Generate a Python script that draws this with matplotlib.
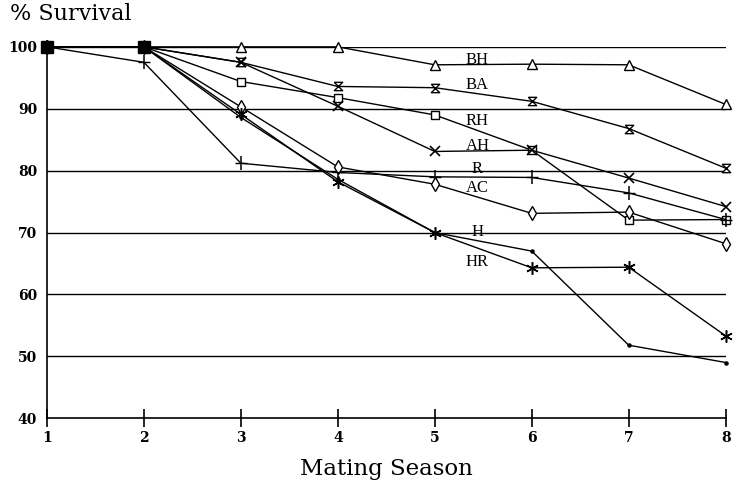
import matplotlib
matplotlib.use("Agg")
import matplotlib.pyplot as plt

# mating seasons and % survival per group
seasons = [1, 2, 3, 4, 5, 6, 7, 8]
bh = [100, 100, 100, 100, 97.1, 97.2, 97.1, 90.7]
ba = [100, 100, 97.5, 93.6, 93.4, 91.2, 86.8, 80.4]
rh = [100, 100, 94.4, 91.8, 89.0, 83.3, 72.0, 72.1]
ah = [100, 100, 97.5, 90.4, 83.1, 83.3, 78.8, 74.2]
r = [100, 97.5, 81.2, 79.7, 79.0, 78.9, 76.4, 72.1]
ac = [100, 100, 90.3, 80.6, 77.8, 73.1, 73.3, 68.2]
h = [100, 100, 88.6, 78.6, 70.0, 67.0, 51.8, 49.0]
hr = [100, 100, 89.1, 78.2, 70.0, 64.3, 64.4, 53.3]

names = ["BH", "BA", "RH", "AH", "R", "AC", "H", "HR"]
label_y = [97.9, 93.9, 88.0, 84.0, 80.2, 77.2, 70.1, 65.3]

hourglass = [(-1, 1), (1, 1), (-1, -1), (1, -1), (-1, 1)]
styles = {
    "BH": dict(marker="^", ms=6.5, mfc="white"),
    "BA": dict(marker=hourglass, ms=6, mfc="white"),
    "RH": dict(marker="s", ms=6, mfc="white"),
    "AH": dict(marker="x", ms=6.5, mew=1.2),
    "R": dict(marker="|", ms=10, mew=1.1),
    "AC": dict(marker="d", ms=7, mfc="white"),
    "H": dict(marker=".", ms=4.5),
    "HR": dict(marker=(6, 2, 0), ms=9, mew=1.1),
}


def main():
    fig = plt.figure(figsize=(7.33, 4.88), dpi=100)
    ax = fig.add_axes([0.064, 0.143, 0.926, 0.761])

    for yv in range(50, 101, 10):
        ax.axhline(yv, color="black", lw=1.0, zorder=1)

    series = [bh, ba, rh, ah, r, ac, h, hr]
    for name, vals in zip(names, series):
        st = styles[name]
        ax.plot(seasons, vals, color="black", lw=1.0, mec="black",
                clip_on=False, zorder=3, **st)
    # horizontal arm of the "+" markers of R
    ax.plot(seasons, r, ls="none", marker="_", ms=8, mew=1.0,
            color="black", clip_on=False, zorder=3)
    # all groups start together: the stacked markers print as a solid block
    ax.plot(seasons[:2], rh[:2], ls="none", marker="s", ms=8,
            color="black", clip_on=False, zorder=5)

    for name, yv in zip(names, label_y):
        ax.text(5.44, yv, name, ha="center", va="center", fontsize=12,
                family="Liberation Serif", zorder=4)

    ax.set_xlim(1, 8)
    ax.set_ylim(40, 100)
    ax.set_xticks(seasons)
    ax.set_yticks(range(40, 101, 10))
    for s in ("top", "right"):
        ax.spines[s].set_visible(False)
    ax.spines["left"].set_linewidth(1.2)
    ax.spines["bottom"].set_linewidth(1.2)
    ax.tick_params(axis="x", direction="inout", length=13, width=1.2, pad=3)
    ax.tick_params(axis="y", length=0, pad=7)
    for lab in ax.get_xticklabels() + ax.get_yticklabels():
        lab.set_family("DejaVu Serif")
        lab.set_fontweight("bold")
        lab.set_fontsize(10)

    ax.set_xlabel("Mating Season", family="DejaVu Serif", fontsize=16.5,
                  labelpad=9)
    fig.text(0.014, 0.971, "% Survival", family="DejaVu Serif", fontsize=16,
             ha="left", va="center")

    fig.savefig("out.png", dpi=100)
    plt.close(fig)


if __name__ == "__main__":
    main()
